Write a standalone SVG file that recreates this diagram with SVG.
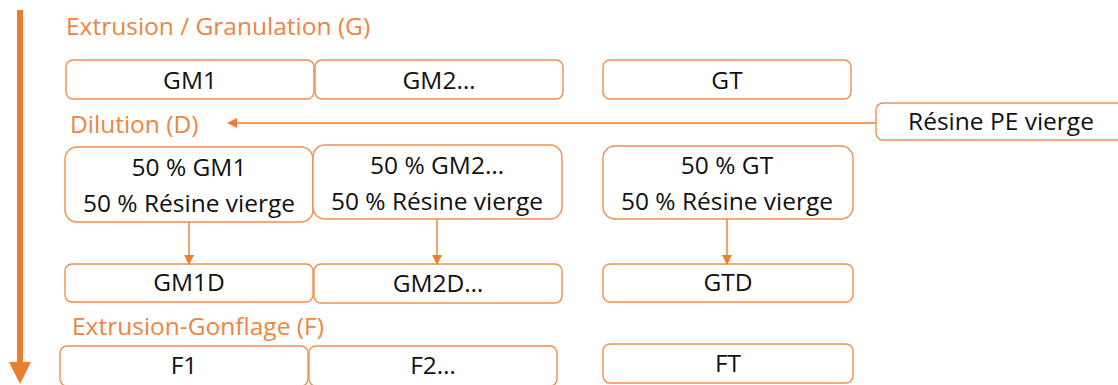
<svg xmlns="http://www.w3.org/2000/svg" width="1118" height="385" viewBox="0 0 1118 385">
  <style>
    .box { fill: #ffffff; stroke: #F0904F; stroke-width: 1.4; }
    .txt { font-family: "Open Sans", Lato, "Liberation Sans", sans-serif; font-size: 24.5px; fill: #111111; text-anchor: middle; }
    .stage { font-family: "Open Sans", Lato, "Liberation Sans", sans-serif; font-size: 24.5px; fill: #EE8540; }
    .link { stroke: #ED7D31; stroke-width: 1.4; fill: none; }
  </style>
  <defs>
    <marker id="ah" markerWidth="10" markerHeight="10" refX="8" refY="5" orient="auto" markerUnits="userSpaceOnUse">
      <path d="M0,0 L10,5 L0,10 Z" fill="#ED7D31"/>
    </marker>
  </defs>

  <!-- process timeline -->
  <g id="timeline">
    <rect x="17" y="10" width="6" height="356" fill="#ED7D31"/>
    <path d="M9,362 L31,362 L20,384 Z" fill="#ED7D31"/>
  </g>

  <!-- stage titles -->
  <text class="stage" x="66" y="35">Extrusion / Granulation (G)</text>
  <text class="stage" x="70" y="133">Dilution (D)</text>
  <text class="stage" x="72" y="335">Extrusion-Gonflage (F)</text>

  <!-- granulation -->
  <g id="GM1"><rect class="box" x="66" y="60" width="248" height="39" rx="7"/><text class="txt" x="190" y="89">GM1</text></g>
  <g id="GM2"><rect class="box" x="315" y="60" width="248" height="39" rx="7"/><text class="txt" x="439" y="89">GM2…</text></g>
  <g id="GT"><rect class="box" x="603" y="60" width="248" height="39" rx="7"/><text class="txt" x="727" y="89">GT</text></g>

  <g id="resine"><rect class="box" x="876" y="103" width="250" height="37" rx="7"/><text class="txt" x="1001" y="130">Résine PE vierge</text></g>

  <!-- dilution -->
  <g id="D1"><rect class="box" x="65" y="147" width="248" height="75" rx="12"/>
    <text class="txt" x="189" y="176">50 % GM1</text><text class="txt" x="189" y="212">50 % Résine vierge</text></g>
  <g id="D2"><rect class="box" x="313" y="145" width="249" height="74" rx="12"/>
    <text class="txt" x="437" y="174">50 % GM2…</text><text class="txt" x="437" y="210">50 % Résine vierge</text></g>
  <g id="DT"><rect class="box" x="603" y="146" width="250" height="73" rx="12"/>
    <text class="txt" x="727" y="174">50 % GT</text><text class="txt" x="727" y="210">50 % Résine vierge</text></g>

  <!-- diluted granules -->
  <g id="GM1D"><rect class="box" x="65" y="264" width="248" height="38" rx="7"/><text class="txt" x="189" y="291">GM1D</text></g>
  <g id="GM2D"><rect class="box" x="314" y="264" width="248" height="39" rx="7"/><text class="txt" x="438" y="292">GM2D…</text></g>
  <g id="GTD"><rect class="box" x="603" y="264" width="250" height="38" rx="7"/><text class="txt" x="728" y="291">GTD</text></g>

  <!-- films -->
  <g id="F1"><rect class="box" x="60" y="346" width="248" height="40" rx="7"/><text class="txt" x="184" y="374">F1</text></g>
  <g id="F2"><rect class="box" x="309" y="346" width="248" height="40" rx="7"/><text class="txt" x="433" y="374">F2…</text></g>
  <g id="FT"><rect class="box" x="603" y="344" width="250" height="39" rx="7"/><text class="txt" x="728" y="372">FT</text></g>

  <!-- connectors -->
  <g id="connectors">
    <line class="link" x1="876" y1="123" x2="229" y2="123" marker-end="url(#ah)"/>
    <line class="link" x1="189" y1="222" x2="189" y2="263" marker-end="url(#ah)"/>
    <line class="link" x1="437" y1="219" x2="437" y2="263" marker-end="url(#ah)"/>
    <line class="link" x1="727" y1="219" x2="727" y2="263" marker-end="url(#ah)"/>
  </g>
</svg>
